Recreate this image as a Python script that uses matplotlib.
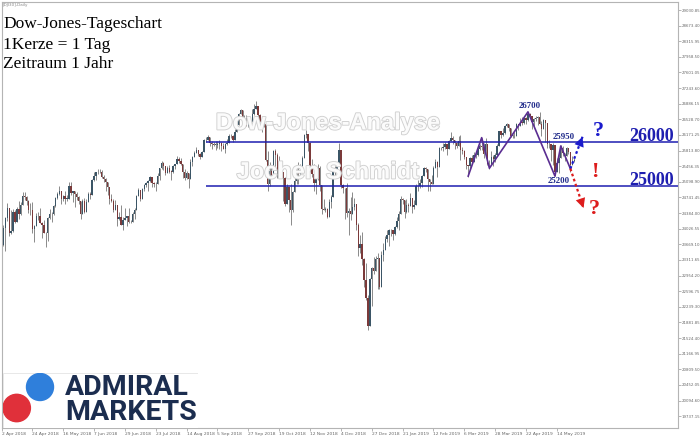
import numpy as np
import matplotlib
matplotlib.use("Agg")
import matplotlib.pyplot as plt
import matplotlib.patheffects as pe
import matplotlib.transforms as mtransforms
from matplotlib.patches import Circle, Rectangle

# Tageskerzen DJI30, 2 Apr 2018 - 27 May 2019 (Werte aus dem Chart geschaetzt)
first_open = 24100

closes = [
    # Apr 2018
    23644, 24033, 24264, 24505, 23933, 23979, 24408, 24189, 24483, 24360,
    24573, 24786, 24748, 24665, 24463, 24448, 24024, 24083, 24322, 24311, 24163,
    # May 2018
    24100, 23925, 23930, 24263, 24357, 24361, 24543, 24740, 24831, 24900,
    24706, 24768, 24714, 24715, 25013, 24834, 24887, 24812, 24753, 24660,
    24361, 24667, 24416,
    # Jun 2018
    24635, 24813, 24799, 25146, 25241, 25317, 25322, 25320, 25201, 25175,
    25090, 24987, 24700, 24657, 24461, 24580, 24252, 24283, 24117, 24216, 24271,
    # Jul 2018
    24307, 24175, 24190, 24357, 24456, 24776, 24920, 24700, 24924, 25019,
    25064, 25120, 25199, 25064, 25058, 25044, 25241, 25415, 25527, 25451, 25307, 25415,
    # Aug 2018
    25333, 25327, 25463, 25502, 25629, 25583, 25509, 25313, 25188, 25300,
    25162, 25558, 25669, 25758, 25822, 25733, 25656, 25790, 26049, 26064, 26124, 25987, 25965,
    # Sep 2018
    25950, 25952, 25974, 25995, 25917, 25857, 25971, 25998, 26145, 26154,
    26062, 26246, 26405, 26657, 26743, 26562, 26492, 26385, 26440, 26458,
    # Oct 2018
    26651, 26774, 26828, 26627, 26447, 26486, 26431, 25599, 25053, 25340,
    25250, 25798, 25706, 25379, 25444, 25317, 25191, 24583, 24985, 24688, 24443, 24875, 25116,
    # Nov 2018
    25380, 25271, 25462, 25636, 26181, 26191, 25989, 25387, 25286, 25081,
    25290, 25413, 25018, 24466, 24465, 24470, 24286, 24640, 24749, 25366, 25339, 25538,
    # Dec 2018
    25826, 25027, 24950, 24947, 24389, 24423, 24370, 24527, 24597, 24100,
    23592, 23675, 23324, 22859, 22445, 21792, 22878, 23138, 23062, 23327,
    # Jan 2019
    23346, 22686, 23433, 23531, 23787, 23879, 24001, 23996, 23910, 24065,
    24207, 24370, 24706, 24680, 24404, 24575, 24553, 24737, 24528, 24579, 25014, 24999,
    # Feb 2019
    25064, 25239, 25411, 25390, 25169, 25106, 25053, 25425, 25543, 25439,
    25883, 25870, 25891, 25954, 25850, 26031, 26091, 26057, 25985, 25916,
    # Mar 2019
    26026, 25819, 25806, 25673, 25473, 25450, 25650, 25554, 25702, 25709,
    25849, 25914, 25887, 25745, 25962, 25502, 25516, 25657, 25626, 25717, 25929,
    # Apr 2019
    26258, 26179, 26218, 26385, 26425, 26341, 26151, 26157, 26143, 26412,
    26385, 26453, 26450, 26559, 26512, 26656, 26597, 26462, 26543, 26554, 26593,
    # May 2019
    26430, 26307, 26505, 26438, 25965, 25968, 25828, 25942, 25324, 25532,
    25648, 25863, 25764, 25680, 25877, 25776, 25490, 25585, 25600,
]

highs = [
    24140, 24100, 24300, 24620, 24510, 24450, 24480, 24450, 24530, 24660,
    24630, 24860, 24860, 24780, 24680, 24620, 24630, 24110, 24380, 24400, 24510,
    24170, 24230, 23960, 24290, 24480, 24420, 24560, 24760, 24870, 25010,
    24860, 24800, 24880, 24790, 25090, 25090, 24900, 24900, 24860, 24770,
    24640, 24700, 24720,
    24700, 24870, 24870, 25160, 25330, 25330, 25400, 25400, 25370, 25250,
    25180, 25080, 24940, 24820, 24700, 24680, 24580, 24420, 24560, 24290, 24500,
    24320, 24500, 24230, 24400, 24510, 24790, 24960, 24810, 24950, 25050,
    25090, 25140, 25230, 25190, 25100, 25090, 25310, 25420, 25580, 25560, 25470, 25470,
    25480, 25370, 25490, 25510, 25690, 25660, 25640, 25410, 25390, 25350,
    25230, 25620, 25700, 25800, 25890, 25820, 25770, 25800, 26080, 26130, 26170, 26110, 26040,
    26000, 26030, 26030, 26060, 26000, 25980, 25990, 26070, 26190, 26200,
    26170, 26300, 26450, 26680, 26770, 26700, 26620, 26630, 26540, 26480,
    26770, 26880, 26951, 26800, 26650, 26580, 26540, 26440, 25800, 25550,
    25470, 25820, 25850, 25750, 25680, 25580, 25200, 25220, 25050, 24930, 25060, 24900, 25250,
    25400, 25550, 25500, 25680, 26200, 26280, 26150, 26000, 25620, 25500,
    25320, 25500, 25450, 24900, 24700, 24520, 24500, 24700, 24800, 25390, 25460, 25560,
    25980, 25760, 25050, 24960, 25080, 24500, 24750, 24870, 24730, 24400,
    24150, 23880, 23950, 23350, 23250, 22500, 22900, 23140, 23380, 23400,
    23470, 23300, 23520, 23690, 23860, 24000, 24010, 24010, 23960, 24090,
    24300, 24440, 24780, 24720, 24660, 24710, 24620, 24840, 24650, 24690, 25040, 25140,
    25170, 25260, 25440, 25440, 25340, 25110, 25250, 25460, 25630, 25580,
    25900, 25900, 25990, 26010, 25960, 26060, 26240, 26150, 26060, 26010,
    26150, 26160, 25900, 25830, 25650, 25470, 25660, 25720, 25780, 25770,
    25930, 25960, 26110, 25990, 26110, 25970, 25600, 25800, 25710, 25760, 25960,
    26260, 26270, 26330, 26390, 26440, 26420, 26310, 26200, 26230, 26440,
    26420, 26560, 26590, 26570, 26590, 26695, 26680, 26600, 26560, 26610, 26600,
    26690, 26490, 26530, 26490, 26400, 26060, 25970, 25980, 25650, 25650,
    25740, 25940, 25920, 25750, 25890, 25880, 25720, 25680, 25640,
]

lows = [
    23500, 23620, 23520, 24200, 23850, 23900, 23950, 24150, 24170, 24250,
    24340, 24560, 24690, 24560, 24390, 24350, 23920, 23720, 24080, 24220, 24160,
    23810, 23920, 23600, 23740, 24250, 24190, 24350, 24520, 24700, 24800,
    24590, 24650, 24600, 24650, 24830, 24800, 24630, 24530, 24680, 24600,
    24240, 24370, 24380,
    24460, 24640, 24700, 24800, 25120, 25130, 25280, 25290, 25180, 25090,
    24900, 24800, 24590, 24640, 24420, 24450, 24080, 24220, 24100, 23990, 24230,
    24080, 24160, 24150, 24180, 24250, 24480, 24780, 24660, 24750, 24890,
    24990, 24900, 25100, 24980, 24990, 24900, 25100, 25150, 25400, 25380, 25250, 25310,
    25290, 25140, 25300, 25390, 25500, 25540, 25490, 25180, 25140, 25170,
    24960, 25180, 25470, 25660, 25750, 25690, 25610, 25660, 25840, 26010, 26050, 25930, 25860,
    25920, 25830, 25870, 25840, 25800, 25840, 25770, 25950, 26000, 26100,
    26020, 26070, 26260, 26420, 26640, 26500, 26470, 26370, 26360, 26340,
    26480, 26620, 26760, 26480, 26300, 26230, 26350, 25580, 24900, 25000,
    25190, 25270, 25440, 25180, 25330, 25200, 24660, 24550, 24650, 24400, 24122, 24400, 24950,
    25050, 25050, 25200, 25380, 25700, 26100, 25800, 25330, 25210, 24900,
    24830, 25150, 24900, 24360, 24450, 24400, 24270, 24350, 24500, 24770, 25200, 25210,
    25600, 24950, 24850, 24242, 24300, 23880, 24230, 24450, 24450, 24000,
    23400, 23480, 23200, 22700, 22400, 21712, 21800, 22267, 22980, 23100,
    22640, 22640, 22900, 23280, 23600, 23720, 23640, 23860, 23770, 23890,
    24050, 24000, 24390, 24600, 24270, 24390, 24420, 24600, 24390, 24470, 24590, 24900,
    24960, 24970, 25230, 25320, 24880, 24880, 25040, 25150, 25440, 25210,
    25570, 25830, 25800, 25850, 25720, 25880, 26080, 25970, 25840, 25880,
    25930, 25600, 25740, 25630, 25390, 25208, 25400, 25500, 25560, 25640,
    25700, 25830, 25830, 25650, 25680, 25480, 25400, 25530, 25470, 25560, 25750,
    26000, 26110, 26150, 26200, 26350, 26260, 26120, 26100, 26100, 26180,
    26280, 26380, 26410, 26420, 26430, 26490, 26580, 26300, 26380, 26490, 26400,
    26420, 26150, 26340, 26000, 25870, 25880, 25580, 25490, 25222, 25390,
    25300, 25660, 25680, 25570, 25690, 25740, 25328, 25480, 25550,
]

date_labels = ["2 Apr 2018", "24 Apr 2018", "16 May 2018", "7 Jun 2018", "29 Jun 2018",
               "23 Jul 2018", "14 Aug 2018", "5 Sep 2018", "27 Sep 2018", "19 Oct 2018",
               "12 Nov 2018", "4 Dec 2018", "27 Dec 2018", "21 Jan 2019", "12 Feb 2019",
               "6 Mar 2019", "28 Mar 2019", "22 Apr 2019", "14 May 2019"]
price_ticks = [29030.85, 28673.40, 28315.95, 27958.50, 27601.05, 27243.60, 26886.15,
               26528.70, 26171.25, 25813.80, 25456.35, 25098.90, 24741.45, 24384.00,
               24026.55, 23669.10, 23311.65, 22954.20, 22596.75, 22239.30, 21881.85,
               21524.40, 21166.95, 20809.50, 20452.05, 20094.60, 19737.15]

levels = [26000, 25000]
# Zickzack (Kerzenindex, Kurs)
zz_bar = [242, 249, 253, 273, 287, 290, 295]
zz_price = [25230, 26110, 25410, 26700, 25230, 25920, 25400]

W, H = 700, 437
fig = plt.figure(figsize=(7, 4.37), dpi=100)
ax = fig.add_axes([1.5 / W, 9 / H, 676.5 / W, 426 / H])

c = np.array(closes, dtype=float)
o = np.array([first_open] + closes[:-1], dtype=float)
hi = np.maximum(np.array(highs, dtype=float), np.maximum(o, c))
lo = np.minimum(np.array(lows, dtype=float), np.minimum(o, c))
x = np.arange(len(c))
up = c >= o

bull, bear = "#3b5566", "#7b3a3a"
ax.vlines(x, lo, hi, color="#8a8a8a", lw=0.7, zorder=2)
body = np.maximum(np.abs(c - o), 10)
ax.bar(x[up], body[up], bottom=np.minimum(o, c)[up], width=0.72, color=bull, lw=0, zorder=3)
ax.bar(x[~up], body[~up], bottom=np.minimum(o, c)[~up], width=0.72, color=bear, lw=0, zorder=3)

ax.set_xlim(0.4, 350.8)
ax.set_ylim(19466, 29214)

for s in ax.spines.values():
    s.set_color("#b4b4b4")
    s.set_linewidth(0.8)
ax.set_xticks(range(0, 16 * len(date_labels), 16))
ax.set_xticklabels(date_labels)
for lbl in ax.get_xticklabels():
    lbl.set_ha("left")
ax.yaxis.tick_right()
ax.set_yticks(price_ticks)
ax.set_yticklabels([f"{v:.2f}" for v in price_ticks])
ax.tick_params(axis="both", length=2, width=0.5, color="#999999",
               labelsize=3.2, labelcolor="#666666", pad=1)
ax.tick_params(axis="y", labelsize=2.8, pad=0.8)

# Wasserzeichen
wm = dict(transform=ax.transAxes, ha="center", va="center", fontsize=17,
          fontweight="bold", family="Liberation Sans", color="#fbfbfb", zorder=4,
          path_effects=[pe.withStroke(linewidth=1.3, foreground="#d0d0d0")])
ax.text(0.4826, 0.716, "Dow-Jones-Analyse", **wm)
ax.text(0.4826, 0.601, "Jochen Schmidt", **wm)

# Widerstand / Unterstuetzung
lblue = "#1e1eb0"
trans = mtransforms.blended_transform_factory(ax.transAxes, ax.transData)
for lv in levels:
    ax.hlines(lv, 106, 350.8, color=lblue, lw=1.1, zorder=5)
    ax.text(0.994, lv + 35, str(lv), transform=trans, ha="right", va="baseline",
            fontsize=13, fontweight="bold", family="Liberation Serif", color=lblue, zorder=6)

ax.plot(zz_bar, zz_price, color="#5a2d91", lw=1.2, zorder=5)

nb = "#1f2a8a"
tx = dict(fontsize=6.3, fontweight="bold", family="Liberation Serif", color=nb,
          ha="center", va="center", zorder=6)
ax.text(273.7, 26834, "26700", **tx)
ax.text(291.3, 26136, "25950", **tx)
ax.text(289.2, 25129, "25200", **tx)

red = "#dd1c1c"
for (x1, y1), col in [((301.3, 26130), "#1a1acc"), ((301.8, 24500), red)]:
    x0, y0 = zz_bar[-1], zz_price[-1]
    ax.plot([x0, x1], [y0, y1], ls=(0, (1.2, 1.2)), lw=1.6, color=col, zorder=6)
    ax.annotate("", xy=(x1, y1), xytext=(x1 - (x1 - x0) * 0.05, y1 - (y1 - y0) * 0.05),
                arrowprops=dict(arrowstyle="-|>,head_length=0.7,head_width=0.35",
                                color=col, lw=0, shrinkA=0, shrinkB=0, mutation_scale=10),
                zorder=7)

sym = dict(fontsize=16, fontweight="bold", family="Liberation Serif", ha="center",
           va="center", zorder=6)
ax.text(309.4, 26262, "?", color="#1a1acc", **sym)
ax.text(307.9, 25324, "!", color=red, **sym)
ax.text(307.4, 24477, "?", color=red, **sym)

# Titel oben links
ttl = dict(fontsize=12.5, family="Liberation Serif", color="black", ha="left", va="center")
fig.text(3 / W, 1 - 24 / H, "Dow-Jones-Tageschart", **ttl)
fig.text(3 / W, 1 - 45 / H, "1Kerze = 1 Tag", **ttl)
fig.text(3 / W, 1 - 64 / H, "Zeitraum 1 Jahr", **ttl)
fig.text(3 / W, 1 - 5 / H, "[DJI30],Daily", fontsize=3, color="#888888", va="center")

# Logo
lax = fig.add_axes([3 / W, 9 / H, 195 / W, 55 / H])
lax.set_xlim(0, 195)
lax.set_ylim(0, 55)
lax.axis("off")
lax.add_patch(Rectangle((0, 0), 195, 55, facecolor="white", edgecolor="#e4e4e4", lw=0.6))
lax.add_patch(Circle((37, 41), 13.5, color="#2f7fdb"))
lax.add_patch(Circle((13.7, 20), 13.7, color="#e0303a"))
logo = dict(fontsize=20.5, fontweight="bold", family="Roboto", color="#1b2d4f", va="baseline")
lax.text(62, 33, "ADMIRAL", **logo)
lax.text(62, 8.5, "MARKETS", **logo)

fig.savefig("out.png", dpi=100)
